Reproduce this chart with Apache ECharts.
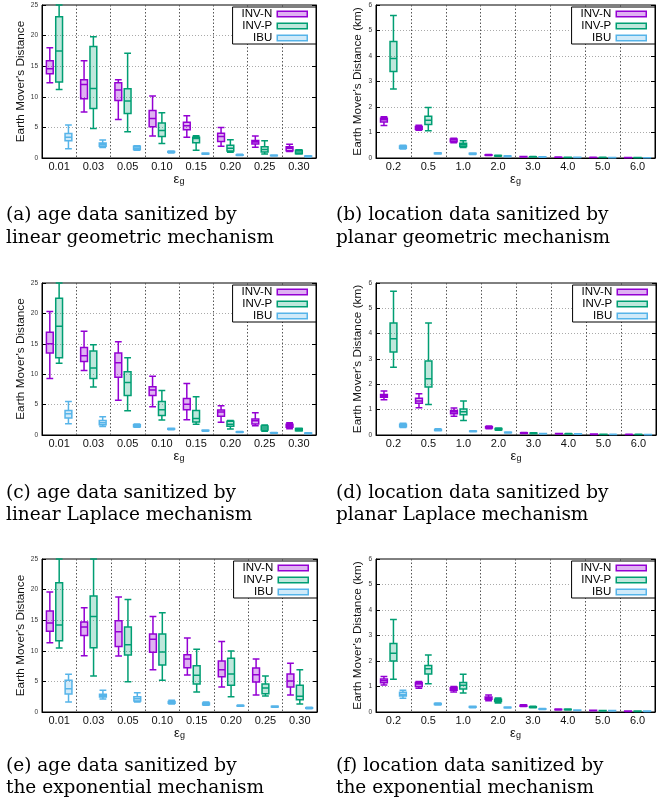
<!DOCTYPE html>
<html><head><meta charset="utf-8">
<script src="https://cdn.jsdelivr.net/npm/echarts@6/dist/echarts.min.js"></script>
<style>html,body{margin:0;padding:0;background:#fff}#c{width:667px;height:806px}</style>
</head><body><div id="c"></div><script>
// ---- categories / labels ----
const ageCats = ['0.01','0.03','0.05','0.10','0.15','0.20','0.25','0.30'];
const locCats = ['0.2','0.5','1.0','2.0','3.0','4.0','5.0','6.0'];
const seriesNames = ['INV-N','INV-P','IBU'];
const ageYName = "Earth Mover's Distance";
const locYName = "Earth Mover's Distance (km)";
// each entry: [min, Q1, median, Q3, max]
// (a) age, linear geometric
const aInvN = [[12.3,13.75,14.6,15.9,18.0],[7.5,9.7,12.0,12.8,15.9],[6.3,9.4,11.1,12.3,12.8],[3.6,5.1,6.45,7.75,10.15],[3.4,4.6,5.25,5.85,6.9],[1.9,2.7,3.5,4.05,5.0],[1.75,2.3,2.6,2.85,3.6],[1.05,1.2,1.6,1.85,2.25]];
const aInvP = [[11.2,12.4,17.5,23.1,25.0],[4.8,8.1,11.35,18.2,19.8],[4.3,7.26,9.3,11.3,17.1],[2.35,3.5,4.5,5.7,7.4],[1.25,2.5,3.2,3.4,3.65],[0.93,1.15,1.6,2.1,3.0],[0.65,1.0,1.4,1.85,2.8],[0.65,0.7,0.98,1.25,1.35]];
const aIbu = [[1.5,2.8,3.4,4.0,5.4],[1.7,1.9,2.2,2.45,2.95],[1.25,1.4,1.65,1.9,2.0],[0.82,0.93,1.0,1.05,1.15],[0.6,0.65,0.7,0.76,0.82],[0.4,0.44,0.5,0.55,0.6],[0.33,0.38,0.42,0.45,0.5],[0.18,0.28,0.3,0.33,0.38]];
// (b) location, planar geometric
const bInvN = [[1.27,1.41,1.5,1.56,1.62],[1.09,1.13,1.19,1.24,1.28],[0.6,0.64,0.71,0.75,0.77],[0.1,0.11,0.12,0.13,0.14],[0.04,0.045,0.05,0.055,0.06],[0.025,0.028,0.03,0.032,0.035],[0.015,0.018,0.02,0.022,0.025],[0.01,0.012,0.015,0.017,0.02]];
const bInvP = [[2.71,3.39,3.9,4.57,5.59],[1.07,1.31,1.48,1.64,1.98],[0.41,0.45,0.52,0.58,0.68],[0.07,0.08,0.09,0.1,0.11],[0.035,0.04,0.045,0.05,0.055],[0.02,0.022,0.025,0.028,0.03],[0.015,0.018,0.02,0.022,0.025],[0.01,0.012,0.015,0.017,0.02]];
const bIbu = [[0.35,0.38,0.43,0.47,0.5],[0.16,0.17,0.18,0.2,0.21],[0.14,0.16,0.17,0.19,0.2],[0.05,0.06,0.07,0.08,0.09],[0.03,0.035,0.04,0.045,0.05],[0.02,0.022,0.025,0.028,0.03],[0.01,0.012,0.015,0.017,0.02],[0.006,0.008,0.01,0.012,0.014]];
// (c) age, linear Laplace
const cInvN = [[9.3,13.5,15.0,16.9,20.3],[10.6,12.1,13.05,14.4,17.05],[5.7,9.5,11.9,13.5,15.35],[4.66,6.5,7.4,7.95,9.65],[2.5,4.17,5.05,6.0,8.45],[2.08,3.07,3.8,4.1,4.8],[1.53,1.8,2.36,2.63,3.67],[1.04,1.26,1.53,1.75,2.03]];
const cInvP = [[11.8,12.7,17.9,22.5,25.0],[7.9,9.3,11.0,13.8,14.85],[4.0,6.5,8.65,10.4,12.7],[2.47,3.2,4.17,5.5,7.3],[1.75,2.15,2.7,4.05,6.3],[1.0,1.43,1.75,2.25,2.4],[0.6,0.82,1.15,1.48,1.64],[0.66,0.71,0.88,1.05,1.1]];
const cIbu = [[1.86,2.8,3.5,4.05,5.5],[1.4,1.7,2.0,2.4,3.0],[1.26,1.37,1.55,1.7,1.8],[0.88,0.93,0.99,1.05,1.1],[0.62,0.68,0.72,0.78,0.82],[0.42,0.46,0.5,0.54,0.58],[0.3,0.33,0.35,0.37,0.4],[0.22,0.26,0.3,0.33,0.36]];
// (d) location, planar Laplace
const dInvN = [[1.39,1.49,1.55,1.6,1.74],[1.08,1.25,1.34,1.45,1.63],[0.74,0.84,0.91,0.97,1.07],[0.25,0.28,0.3,0.33,0.36],[0.06,0.07,0.08,0.09,0.1],[0.04,0.045,0.05,0.055,0.06],[0.02,0.025,0.03,0.035,0.04],[0.015,0.018,0.02,0.022,0.025]];
const dInvP = [[2.67,3.28,3.8,4.42,5.67],[1.2,1.89,2.22,2.92,4.42],[0.57,0.8,0.92,1.03,1.34],[0.19,0.21,0.23,0.26,0.28],[0.05,0.06,0.07,0.08,0.09],[0.035,0.04,0.045,0.05,0.055],[0.02,0.022,0.025,0.028,0.03],[0.015,0.018,0.02,0.022,0.025]];
const dIbu = [[0.3,0.33,0.38,0.42,0.46],[0.17,0.18,0.2,0.22,0.25],[0.13,0.14,0.15,0.16,0.17],[0.08,0.09,0.1,0.11,0.12],[0.04,0.045,0.05,0.055,0.06],[0.03,0.035,0.04,0.045,0.05],[0.015,0.018,0.02,0.022,0.025],[0.01,0.012,0.015,0.017,0.02]];
// (e) age, exponential
const eInvN = [[11.3,13.2,14.55,16.5,19.6],[9.2,12.5,13.9,14.7,17.05],[9.15,10.7,13.1,14.9,18.8],[6.9,9.75,11.9,12.75,15.6],[6.05,7.25,8.66,9.37,12.1],[4.08,5.77,6.9,8.33,11.5],[2.78,4.9,6.1,7.19,8.66],[2.78,4.08,5.07,6.2,7.95]];
const eInvP = [[10.45,11.65,14.2,21.1,25.0],[5.9,10.5,15.6,18.95,25.0],[4.95,9.3,11.0,13.9,18.4],[5.2,7.68,9.8,12.75,16.2],[3.27,4.57,6.0,7.57,10.25],[2.5,4.36,6.2,8.77,9.97],[2.6,3.0,3.92,4.57,5.88],[1.3,2.0,2.56,4.36,6.92]];
const eIbu = [[1.63,2.94,3.8,5.17,6.15],[2.12,2.45,2.67,2.9,3.54],[1.63,1.8,2.18,2.5,3.16],[1.3,1.42,1.58,1.7,1.9],[1.09,1.2,1.36,1.47,1.63],[0.93,0.98,1.03,1.08,1.14],[0.76,0.82,0.87,0.92,0.98],[0.54,0.6,0.65,0.7,0.76]];
// (f) location, exponential
const fInvN = [[1.06,1.15,1.23,1.29,1.39],[0.93,1.0,1.1,1.16,1.2],[0.78,0.85,0.9,0.95,1.0],[0.44,0.5,0.54,0.59,0.67],[0.22,0.23,0.25,0.26,0.28],[0.08,0.09,0.1,0.11,0.12],[0.05,0.055,0.06,0.065,0.07],[0.02,0.025,0.03,0.035,0.04]];
const fInvP = [[1.28,2.0,2.3,2.69,3.63],[1.11,1.49,1.7,1.82,2.24],[0.75,0.9,1.05,1.16,1.48],[0.35,0.41,0.46,0.5,0.55],[0.17,0.18,0.2,0.21,0.23],[0.08,0.09,0.1,0.11,0.12],[0.04,0.045,0.05,0.055,0.06],[0.02,0.025,0.03,0.035,0.04]];
const fIbu = [[0.54,0.63,0.69,0.77,0.85],[0.27,0.29,0.31,0.33,0.35],[0.17,0.19,0.2,0.22,0.23],[0.16,0.17,0.18,0.19,0.2],[0.1,0.11,0.12,0.13,0.14],[0.06,0.065,0.07,0.075,0.08],[0.04,0.045,0.05,0.055,0.06],[0.02,0.025,0.03,0.035,0.04]];
// captions
const capA = ['(a) age data sanitized by','linear geometric mechanism'];
const capB = ['(b) location data sanitized by','planar geometric mechanism'];
const capC = ['(c) age data sanitized by','linear Laplace mechanism'];
const capD = ['(d) location data sanitized by','planar Laplace mechanism'];
const capE = ['(e) age data sanitized by','the exponential mechanism'];
const capF = ['(f) location data sanitized by','the exponential mechanism'];

// ---- styling / layout ----
const FONT = 'Liberation Sans';
const strokes = ['#9400d3','#009e73','#56b4e9'];
const fills = ['rgba(148,0,211,0.3)','rgba(0,158,115,0.25)','rgba(86,180,233,0.28)'];
const panels = [
  {cats:ageCats, data:[aInvN,aInvP,aIbu], max:25, interval:5, yName:ageYName, grid:{left:42,top:5,width:274,height:153}, nameGap:15, cap:capA, capX:6, capY:[215.5,238]},
  {cats:locCats, data:[bInvN,bInvP,bIbu], max:6, interval:1, yName:locYName, grid:{left:376,top:5,width:279,height:153}, nameGap:12, cap:capB, capX:336, capY:[215.5,238]},
  {cats:ageCats, data:[cInvN,cInvP,cIbu], max:25, interval:5, yName:ageYName, grid:{left:42,top:283,width:274,height:152}, nameGap:15, cap:capC, capX:6, capY:[493,515.5]},
  {cats:locCats, data:[dInvN,dInvP,dIbu], max:6, interval:1, yName:locYName, grid:{left:376,top:283,width:280,height:152}, nameGap:12, cap:capD, capX:336, capY:[493,515.5]},
  {cats:ageCats, data:[eInvN,eInvP,eIbu], max:25, interval:5, yName:ageYName, grid:{left:42,top:559,width:275,height:153}, nameGap:15, cap:capE, capX:6, capY:[766,788.5]},
  {cats:locCats, data:[fInvN,fInvP,fIbu], max:6, interval:1, yName:locYName, grid:{left:376,top:559,width:279,height:153}, nameGap:12, cap:capF, capX:336, capY:[766,788.5]}
];

const grids=[], xAxes=[], yAxes=[], series=[], legends=[], graphics=[];
panels.forEach((p,i)=>{
  grids.push(Object.assign({show:true, borderColor:'#000', borderWidth:1, backgroundColor:'transparent'}, p.grid));
  xAxes.push({gridIndex:i, type:'category', data:p.cats, boundaryGap:true,
    axisLine:{show:true, lineStyle:{color:'#000', width:1}}, axisTick:{show:false},
    axisLabel:{interval:0, fontSize:11, color:'#111', margin:3, fontFamily:FONT},
    splitLine:{show:true, interval:0, showMinLine:false, showMaxLine:false, lineStyle:{type:[1.5,2], color:'#555', width:1}},
    name:'{e|ε}{g|g}', nameLocation:'middle', nameGap:14,
    nameTextStyle:{rich:{e:{fontSize:13, fontFamily:FONT, color:'#111', lineHeight:14, verticalAlign:'middle'}, g:{fontSize:9, fontFamily:FONT, color:'#111', lineHeight:9, verticalAlign:'bottom'}}}
  });
  yAxes.push({gridIndex:i, type:'value', min:0, max:p.max, interval:p.interval,
    axisLine:{show:true, lineStyle:{color:'#000', width:1}},
    axisTick:{show:true, inside:true, length:4, lineStyle:{color:'#000'}},
    axisLabel:{fontSize:6.5, color:'#333', margin:4, fontFamily:FONT},
    splitLine:{show:true, showMinLine:false, showMaxLine:false, lineStyle:{type:[1,2], color:'#aaa', width:1}},
    name:p.yName, nameLocation:'middle', nameGap:p.nameGap,
    nameTextStyle:{fontSize:11.8, color:'#111', fontFamily:FONT}
  });
  yAxes.push({gridIndex:i, type:'value', position:'right', min:0, max:p.max, interval:p.interval,
    axisLine:{show:true, lineStyle:{color:'#000', width:1}},
    axisTick:{show:true, inside:true, length:4, lineStyle:{color:'#000'}},
    axisLabel:{show:false}, splitLine:{show:false}
  });
  seriesNames.forEach((n,k)=>{
    series.push({type:'boxplot', name:n, xAxisIndex:i, yAxisIndex:2*i, data:p.data[k],
      boxWidth:[6.8,6.8], silent:true,
      itemStyle:{color:fills[k], borderColor:strokes[k], borderWidth:1.5},
      emphasis:{disabled:true}});
  });
  legends.push({orient:'vertical', align:'right', right:667-(p.grid.left+p.grid.width), top:p.grid.top+2,
    itemWidth:30, itemHeight:5.5, itemGap:0, padding:[1,8,0,9], selectedMode:false,
    borderColor:'#000', borderWidth:1, backgroundColor:'#fff',
    textStyle:{fontSize:11.5, lineHeight:12, fontFamily:FONT, color:'#000'},
    data:seriesNames.map((n,k)=>({name:n, icon:'rect', itemStyle:{color:fills[k], borderColor:strokes[k], borderWidth:1.5}}))
  });
  p.cap.forEach((t,j)=>{
    graphics.push({type:'text', x:p.capX, y:p.capY[j], silent:true,
      style:{text:t, fill:'#000', font:'18.5px "DejaVu Serif"', verticalAlign:'middle', align:'left'}});
  });
});

const chart = echarts.init(document.getElementById('c'), null, {renderer:'canvas'});
chart.setOption({animation:false, backgroundColor:'#fff', grid:grids, xAxis:xAxes, yAxis:yAxes, series:series, legend:legends, graphic:graphics, tooltip:{show:false}});
</script></body></html>
